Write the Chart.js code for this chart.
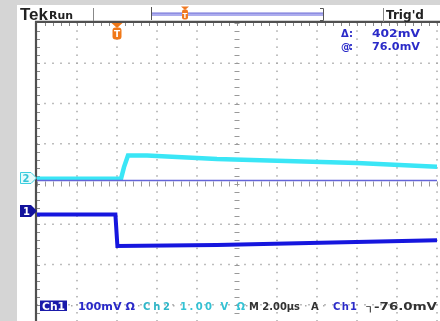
<!DOCTYPE html>
<html>
<head>
<meta charset="utf-8">
<script src="https://cdn.jsdelivr.net/npm/chart.js@4"></script>
<style>
  html, body { margin: 0; padding: 0; width: 440px; height: 321px; overflow: hidden; background: #d5d5d5; }
  #panel { position: absolute; left: 17px; top: 5px; width: 423px; height: 316px; background: #fff; }
  #wrap { position: absolute; left: 30px; top: 15px; width: 410px; height: 331px; }
  #overlay { position: absolute; left: 0; top: 0; pointer-events: none; }
</style>
</head>
<body>
<div id="panel"></div>
<div id="wrap"><canvas id="scope" width="410" height="331"></canvas></div>

<svg id="overlay" width="440" height="321" font-family="DejaVu Sans, sans-serif" font-weight="bold">
  <!-- header -->
  <text x="20" y="20" font-family="Liberation Sans, sans-serif" font-size="16" fill="#222" textLength="28" lengthAdjust="spacingAndGlyphs">Tek</text>
  <text x="49" y="19" font-size="11" fill="#222" textLength="24" lengthAdjust="spacingAndGlyphs">Run</text>
  <line x1="93.5" y1="8" x2="93.5" y2="21" stroke="#888"/>
  <line x1="151.5" y1="7" x2="151.5" y2="20" stroke="#555"/>
  <line x1="152" y1="14.5" x2="323" y2="14.5" stroke="#adadee" stroke-width="3"/>
  <line x1="152" y1="13" x2="323" y2="13" stroke="#7070d6" stroke-width="1"/>
  <path d="M320,8.5 H323.5 V20.5 H320" fill="none" stroke="#555"/>
  <path d="M181,6.5 H189 L185,10 Z" fill="#f07820"/>
  <rect x="182" y="9.5" width="6" height="10" rx="2" fill="#f07820"/>
  <text x="185" y="17.5" font-size="7" fill="#fff" text-anchor="middle">T</text>
  <line x1="383.5" y1="8" x2="383.5" y2="22" stroke="#888"/>
  <text x="386" y="19" font-size="12" fill="#222" textLength="38" lengthAdjust="spacingAndGlyphs">Trig'd</text>

  <!-- trigger position marker -->
  <path d="M111.5,23 H122.5 L117,28 Z" fill="#f07818"/>
  <rect x="112.5" y="27.5" width="9" height="12" rx="3" fill="#f07818"/>
  <text x="117" y="37" font-size="9" fill="#fff" text-anchor="middle">T</text>

  <!-- cursor readouts -->
  <g fill="#2a2ac8" font-size="10">
    <text x="341" y="37" textLength="12" lengthAdjust="spacing">Δ:</text>
    <text x="372" y="37" textLength="48" lengthAdjust="spacingAndGlyphs">402mV</text>
    <text x="341" y="49.5" textLength="12" lengthAdjust="spacing">@:</text>
    <text x="372" y="49.5" textLength="48" lengthAdjust="spacingAndGlyphs">76.0mV</text>
  </g>

  <!-- channel ground markers -->
  <path d="M20.5,172.5 H31 L36.5,178 L31,183.5 H20.5 Z" fill="#e6fbfc" stroke="#3ccfe0"/>
  <text x="22.5" y="182" font-size="10" fill="#36c4d6">2</text>
  <path d="M20,205 H31 L37,211 L31,217 H20 Z" fill="#12129c"/>
  <text x="23" y="215" font-size="10" fill="#fff">1</text>

  <!-- status line -->
  <g font-size="10">
    <rect x="40" y="300.5" width="27" height="10.5" fill="#1a1aaa"/>
    <text x="42" y="309.5" fill="#fff" textLength="23" lengthAdjust="spacingAndGlyphs">Ch1</text>
    <text x="78" y="309.5" fill="#2a2ac8" textLength="57" lengthAdjust="spacingAndGlyphs">100mV Ω</text>
    <text x="143" y="309.5" fill="#2fb6c8" textLength="27" lengthAdjust="spacing">Ch2</text>
    <text x="180" y="309.5" fill="#34c2d4" textLength="65" lengthAdjust="spacing">1.00 V Ω</text>
    <text x="249" y="309.5" fill="#333" textLength="51" lengthAdjust="spacingAndGlyphs">M 2.00µs</text>
    <text x="311" y="309.5" fill="#333">A</text>
    <text x="333" y="309.5" fill="#2a2ac8" textLength="24" lengthAdjust="spacing">Ch1</text>
    <text x="366" y="309.5" fill="#333" textLength="71" lengthAdjust="spacingAndGlyphs">┐-76.0mV</text>
  </g>
  <g fill="#aaa">
    <rect x="71" y="305" width="1.5" height="1.5"/>
    <rect x="138" y="305" width="1.5" height="1.5"/>
    <rect x="173" y="305" width="1.5" height="1.5"/>
    <rect x="246" y="305" width="1.5" height="1.5"/>
    <rect x="305" y="305" width="1.5" height="1.5"/>
    <rect x="323" y="305" width="1.5" height="1.5"/>
  </g>
</svg>

<script>
// time base: 2.00 µs/div, trigger 2 div from the left
const timeRange = [-4, 16];
const divRange = [-4, 4];

// Ch1 (100 mV/div)
const timeCh1 = [-4, -0.08, 0.02, 5, 16];
const ch1mV = [-9, -9, -87, -84.5, -73];

// Ch2 (1.00 V/div)
const timeCh2 = [-4, 0.2, 0.35, 0.55, 1.5, 5, 8, 12, 16];
const ch2V = [-0.02, -0.02, 0.27, 0.56, 0.56, 0.47, 0.43, 0.37, 0.28];

// horizontal bar cursors on Ch1, mV
const cursorMv = [76.0, -326.0];

// vertical scale and ground position of each channel, in divisions
const ch1Scale = 100, ch1Pos = -0.67;
const ch2Scale = 1.0, ch2Pos = 0.15;

const toDiv = (v, scale, pos) => pos + v / scale;

const graticule = {
  id: 'graticule',
  beforeDatasetsDraw(chart) {
    const { ctx, chartArea: a } = chart;
    const dx = (a.right - a.left) / 10;
    const dy = (a.bottom - a.top) / 8;
    const cx = a.left + 5 * dx, cy = a.top + 4 * dy;
    ctx.save();

    // dotted grid
    ctx.fillStyle = '#a8a8a8';
    for (let i = 1; i <= 10; i++) {
      if (i === 5) continue;
      const x = a.left + i * dx;
      for (let k = 0; k <= 40; k++) ctx.fillRect(x - 0.75, a.top + k * dy / 5 - 0.75, 1.5, 1.5);
    }
    for (let j = 1; j < 8; j++) {
      if (j === 4) continue;
      const y = a.top + j * dy;
      for (let k = 0; k <= 50; k++) ctx.fillRect(a.left + k * dx / 5 - 0.75, y - 0.75, 1.5, 1.5);
    }

    // centre axes with minor ticks
    ctx.strokeStyle = '#999';
    ctx.lineWidth = 1;
    ctx.beginPath();
    for (let k = 0; k <= 40; k++) {
      const y = Math.round(a.top + k * dy / 5) + 0.5;
      ctx.moveTo(cx - 2.5, y); ctx.lineTo(cx + 2.5, y);
    }
    for (let k = 0; k <= 50; k++) {
      const x = Math.round(a.left + k * dx / 5) + 0.5;
      ctx.moveTo(x, cy - 2.5); ctx.lineTo(x, cy + 2.5);
    }
    ctx.stroke();

    // border ticks
    ctx.strokeStyle = '#888';
    ctx.beginPath();
    for (let k = 1; k <= 50; k++) {
      const x = Math.round(a.left + k * dx / 5) + 0.5;
      ctx.moveTo(x, a.top); ctx.lineTo(x, a.top + 3);
    }
    for (let k = 1; k <= 40; k++) {
      const y = Math.round(a.top + k * dy / 5) + 0.5;
      ctx.moveTo(a.left, y); ctx.lineTo(a.left + 3, y);
    }
    ctx.stroke();

    // frame
    ctx.strokeStyle = '#505050';
    ctx.lineWidth = 2.2;
    ctx.beginPath();
    ctx.moveTo(a.left - 1, a.bottom); ctx.lineTo(a.left - 1, a.top - 1.2);
    ctx.lineTo(chart.width, a.top - 1.2);
    ctx.stroke();
    ctx.restore();
  }
};

const flat = (v) => [{ x: timeRange[0], y: v }, { x: timeRange[1], y: v }];

new Chart(document.getElementById('scope'), {
  type: 'line',
  data: {
    datasets: [
      {
        label: 'Cursor 1',
        data: flat(toDiv(cursorMv[0], ch1Scale, ch1Pos)),
        borderColor: '#6464d8',
        borderWidth: 1.5
      },
      {
        label: 'Cursor 2',
        data: flat(toDiv(cursorMv[1], ch1Scale, ch1Pos)),
        borderColor: '#6464d8',
        borderWidth: 1.5
      },
      {
        label: 'Ch2',
        data: timeCh2.map((t, i) => ({ x: t, y: toDiv(ch2V[i], ch2Scale, ch2Pos) })),
        borderColor: '#3ae6f6',
        borderWidth: 4.5
      },
      {
        label: 'Ch1',
        data: timeCh1.map((t, i) => ({ x: t, y: toDiv(ch1mV[i], ch1Scale, ch1Pos) })),
        borderColor: '#1616de',
        borderWidth: 4
      }
    ]
  },
  options: {
    responsive: false,
    animation: false,
    layout: { padding: { left: 7, top: 8, right: 3, bottom: 1 } },
    elements: { point: { radius: 0 }, line: { tension: 0, borderCapStyle: 'butt' } },
    plugins: { legend: { display: false }, tooltip: { enabled: false } },
    scales: {
      x: { type: 'linear', min: timeRange[0], max: timeRange[1], display: false },
      y: { type: 'linear', min: divRange[0], max: divRange[1], display: false }
    }
  },
  plugins: [graticule]
});
</script>
</body>
</html>
